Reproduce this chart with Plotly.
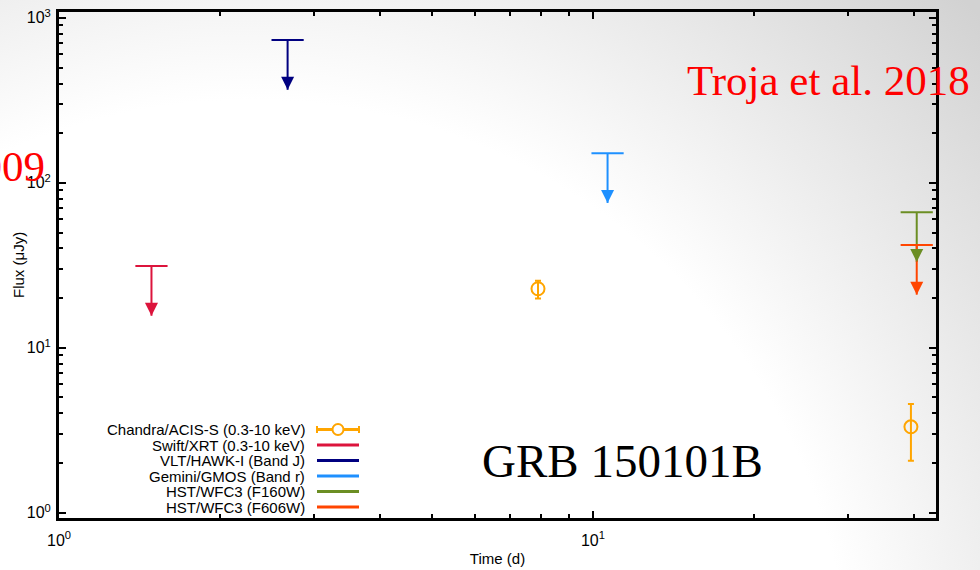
import base64
import math
import plotly.graph_objects as go

# ---- data -------------------------------------------------------------
# Chandra/ACIS-S (0.3-10 keV) detections
chandra_name = "Chandra/ACIS-S (0.3-10 keV)"
chandra_t = [7.89, 39.4]
chandra_flux = [22.8, 3.32]
chandra_err_plus = [2.7, 1.24]
chandra_err_minus = [2.9, 1.25]

# 3-sigma upper limits
lim_names = [
    "Swift/XRT (0.3-10 keV)",
    "VLT/HAWK-I (Band J)",
    "Gemini/GMOS (Band r)",
    "HST/WFC3 (F160W)",
    "HST/WFC3 (F606W)",
]
lim_t = [1.49, 2.68, 10.65, 40.4, 40.4]
lim_flux = [31.3, 733.0, 151.0, 66.3, 42.0]

x_tickvals = [1, 10]
x_ticktext = ["10<sup>0</sup>", "10<sup>1</sup>"]
y_tickvals = [1, 10, 100, 1000]
y_ticktext = ["10<sup>0</sup>", "10<sup>1</sup>", "10<sup>2</sup>", "10<sup>3</sup>"]

# ---- styling ------------------------------------------------------------
chandra_color = "#FFA500"
lim_colors = ["#DC143C", "#000080", "#1E90FF", "#6B8E23", "#FF4500"]
ARROW_DROP = 0.5          # upper-limit arrows extend to half the limit
W, H = 980, 570
ML, MR, MT, MB = 59, 44, 12, 52
PW, PH = W - ML - MR, H - MT - MB
SANS = "Liberation Sans, Arial, sans-serif"
SERIF = "Liberation Serif, Times New Roman, serif"


def px(x):
    """figure pixel x -> paper x"""
    return (x - ML) / PW


def py(y):
    """figure pixel y -> paper y"""
    return (H - MB - y) / PH


fig = go.Figure()

# upper limits: stem + cap, arrowhead added as annotation
for name, t, f, c in zip(lim_names, lim_t, lim_flux, lim_colors):
    fig.add_trace(go.Scatter(
        x=[t, t], y=[f, f * ARROW_DROP], mode="lines",
        line=dict(color=c, width=2), name=name, showlegend=False,
        hoverinfo="skip",
    ))
    fig.add_trace(go.Scatter(
        x=[t], y=[f], mode="markers",
        marker=dict(symbol="line-ew", size=23, line=dict(color=c, width=2)),
        showlegend=False, hoverinfo="skip",
    ))
    fig.add_annotation(
        x=math.log10(t), y=math.log10(f * ARROW_DROP), xref="x", yref="y",
        ax=0, ay=-13, axref="pixel", ayref="pixel", text="",
        showarrow=True, arrowhead=2, arrowsize=1.3, arrowwidth=2,
        arrowcolor=c, standoff=0,
    )

# detections
fig.add_trace(go.Scatter(
    x=chandra_t, y=chandra_flux, mode="markers", name=chandra_name,
    marker=dict(symbol="circle-open", size=13, color=chandra_color,
                line=dict(color=chandra_color, width=2)),
    error_y=dict(type="data", array=chandra_err_plus,
                 arrayminus=chandra_err_minus, color=chandra_color,
                 thickness=2, width=3),
    showlegend=False,
))

# ---- hand-built key (text right-aligned, sample to the right) ------------
key_names = [chandra_name] + lim_names
key_colors = [chandra_color] + lim_colors
row0, row_step = 429.5, 15.5
txt_right, s0, s1 = 307, 317, 359
for i, (name, c) in enumerate(zip(key_names, key_colors)):
    yy = row0 + i * row_step
    fig.add_annotation(
        x=px(txt_right), y=py(yy), xref="paper", yref="paper",
        xanchor="right", yanchor="middle", text=name, showarrow=False,
        font=dict(family=SANS, size=15, color="black"),
    )
    fig.add_shape(type="line", xref="paper", yref="paper",
                  x0=px(s0), x1=px(s1), y0=py(yy), y1=py(yy),
                  line=dict(color=c, width=3))
    if i == 0:
        for xe in (s0, s1):
            fig.add_shape(type="line", xref="paper", yref="paper",
                          x0=px(xe), x1=px(xe), y0=py(yy - 3.5), y1=py(yy + 3.5),
                          line=dict(color=c, width=2))
        r = 5.5
        fig.add_shape(type="circle", xref="paper", yref="paper",
                      x0=px(338 - r), x1=px(338 + r),
                      y0=py(yy - r), y1=py(yy + r),
                      line=dict(color=c, width=2), fillcolor="white")

# ---- captions -------------------------------------------------------------
fig.add_annotation(x=px(685), y=py(80), xref="paper", yref="paper",
                   xanchor="left", yanchor="middle", text="Troja et al. 2018",
                   showarrow=False, font=dict(family=SERIF, size=43, color="red"))
fig.add_annotation(x=px(47), y=py(166), xref="paper", yref="paper",
                   xanchor="right", yanchor="middle", text="2009",
                   showarrow=False, font=dict(family=SERIF, size=43, color="red"))
fig.add_annotation(x=px(480), y=py(461), xref="paper", yref="paper",
                   xanchor="left", yanchor="middle", text="GRB 150101B",
                   showarrow=False, font=dict(family=SERIF, size=47, color="black"))

# y-axis title, placed by hand
fig.add_annotation(x=px(18), y=0.5, xref="paper", yref="paper",
                   xanchor="center", yanchor="middle", text="Flux (μJy)",
                   textangle=-90, showarrow=False,
                   font=dict(family=SANS, size=15, color="black"))

# ---- soft radial background ------------------------------------------------
svg = (
    f'<svg xmlns="http://www.w3.org/2000/svg" width="{W}" height="{H}">'
    '<defs><radialGradient id="g" gradientUnits="userSpaceOnUse" '
    'cx="250" cy="700" r="1000">'
    '<stop offset="0.6" stop-color="#ffffff"/>'
    '<stop offset="1" stop-color="#d2d2d2"/>'
    '</radialGradient></defs>'
    f'<rect width="{W}" height="{H}" fill="url(#g)"/></svg>'
)
bg_src = "data:image/svg+xml;base64," + base64.b64encode(svg.encode()).decode()
fig.add_layout_image(
    source=bg_src, xref="paper", yref="paper",
    x=px(0), y=py(0), sizex=W / PW, sizey=H / PH,
    xanchor="left", yanchor="top", sizing="stretch", layer="below",
)

axis_common = dict(
    type="log", showgrid=False, zeroline=False, automargin=False,
    showline=True, linecolor="black", linewidth=3, mirror="ticks",
    ticks="inside", ticklen=7, tickwidth=2, tickcolor="black",
    minor=dict(ticks="inside", ticklen=4, tickwidth=2, tickcolor="black",
               dtick="D1", showgrid=False),
    tickfont=dict(family=SANS, size=16, color="black"),
)
fig.update_xaxes(
    **axis_common, range=[0, math.log10(43.9)],
    tickvals=x_tickvals, ticktext=x_ticktext, ticklabelstandoff=6,
    title=dict(text="Time (d)", font=dict(family=SANS, size=15, color="black"),
               standoff=6),
)
fig.update_yaxes(
    **axis_common, range=[math.log10(0.93), math.log10(1085)],
    tickvals=y_tickvals, ticktext=y_ticktext, ticklabelstandoff=2,
)

fig.update_layout(
    width=W, height=H, margin=dict(l=ML, r=MR, t=MT, b=MB),
    paper_bgcolor="white", plot_bgcolor="rgba(0,0,0,0)",
    showlegend=False,
)

fig.write_html("out.html")
